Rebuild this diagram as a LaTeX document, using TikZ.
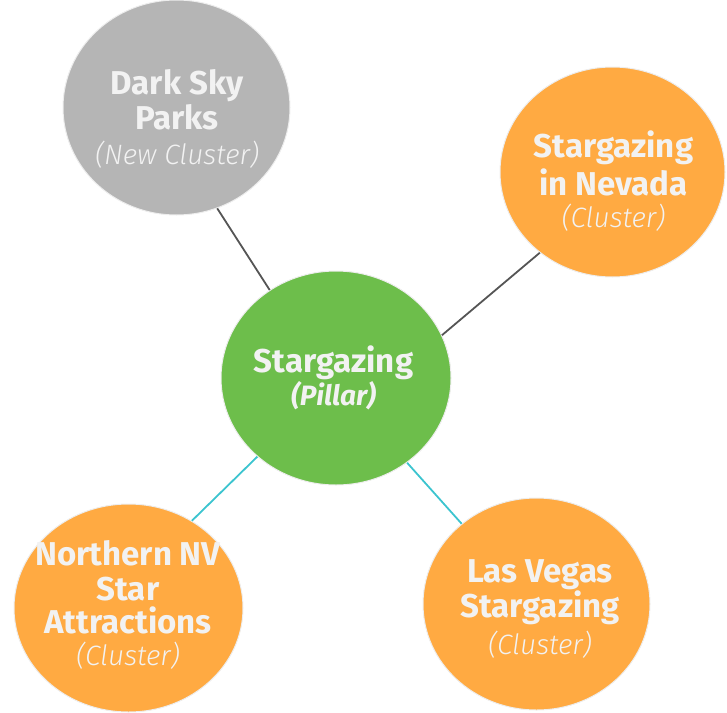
\documentclass[tikz,border=0pt]{standalone}
\usepackage{fontspec}
\setmainfont{Fira Sans}[BoldFont={Fira Sans Bold}, ItalicFont={Fira Sans Light Italic}, BoldItalicFont={Fira Sans Bold Italic}]
\usetikzlibrary{shapes.geometric}
\definecolor{cgreen}{HTML}{6DBE4B}
\definecolor{corange}{HTML}{FFAA42}
\definecolor{cgray}{HTML}{B5B5B5}
\definecolor{ctext}{HTML}{F2F2F2}
\definecolor{cedge}{HTML}{EDEDED}
\definecolor{cline}{HTML}{555555}
\definecolor{ccyan}{HTML}{3CC4CF}
\begin{document}
\begin{tikzpicture}[x=1pt,y=-1pt,
  bubble/.style={ellipse, inner sep=0pt, draw=cedge, line width=1pt},
  ttl/.style={anchor=base, text=ctext, font=\fontsize{33}{33}\selectfont\bfseries, inner sep=0pt},
  sub/.style={anchor=base, text=ctext, font=\fontsize{28}{28}\selectfont\itshape, inner sep=0pt},
  darklink/.style={draw=cline, line width=1.8pt},
  cyanlink/.style={draw=ccyan, line width=1.8pt}]
\useasboundingbox (0,0) rectangle (727,712);
\node[bubble, fill=cgray, minimum width=227pt, minimum height=215pt] (dark) at (176.5,107.5) {};
\node[bubble, fill=corange, minimum width=225pt, minimum height=210pt] (nevada) at (612.5,172) {};
\node[bubble, fill=cgreen, minimum width=230pt, minimum height=214pt] (main) at (336,378) {};
\node[bubble, fill=corange, minimum width=229pt, minimum height=208pt] (north) at (128.5,608) {};
\node[bubble, fill=corange, minimum width=227pt, minimum height=212pt] (vegas) at (536.5,604) {};

\draw[darklink] (dark.-68) -- (main.127);
\draw[darklink] (nevada.228) -- (main.22);
\draw[cyanlink] (north.54) -- (main.225);
\draw[cyanlink] (vegas.133) -- (main.-50);

\node[ttl] (dark1) at (177,94) {Dark Sky};
\node[ttl] (dark2) at (177,129) {Parks};
\node[sub] (dark3) at (177,164) {(New Cluster)};

\node[ttl] (nev1) at (613.5,157) {Stargazing};
\node[ttl] (nev2) at (613.5,195) {in Nevada};
\node[sub] (nev3) at (613.5,227) {(Cluster)};

\node[ttl] (main1) at (333.5,372) {Stargazing};
\node[sub, font=\fontsize{28}{28}\selectfont\bfseries\itshape] (main2) at (333.5,405) {(Pillar)};

\node[ttl] (north1) at (128,565) {Northern NV};
\node[ttl] (north2) at (128,600) {Star};
\node[ttl] (north3) at (128,633) {Attractions};
\node[sub] (north4) at (128,665) {(Cluster)};

\node[ttl] (veg1) at (540,582) {Las Vegas};
\node[ttl] (veg2) at (540,617) {Stargazing};
\node[sub] (veg3) at (540,654) {(Cluster)};
\end{tikzpicture}
\end{document}
